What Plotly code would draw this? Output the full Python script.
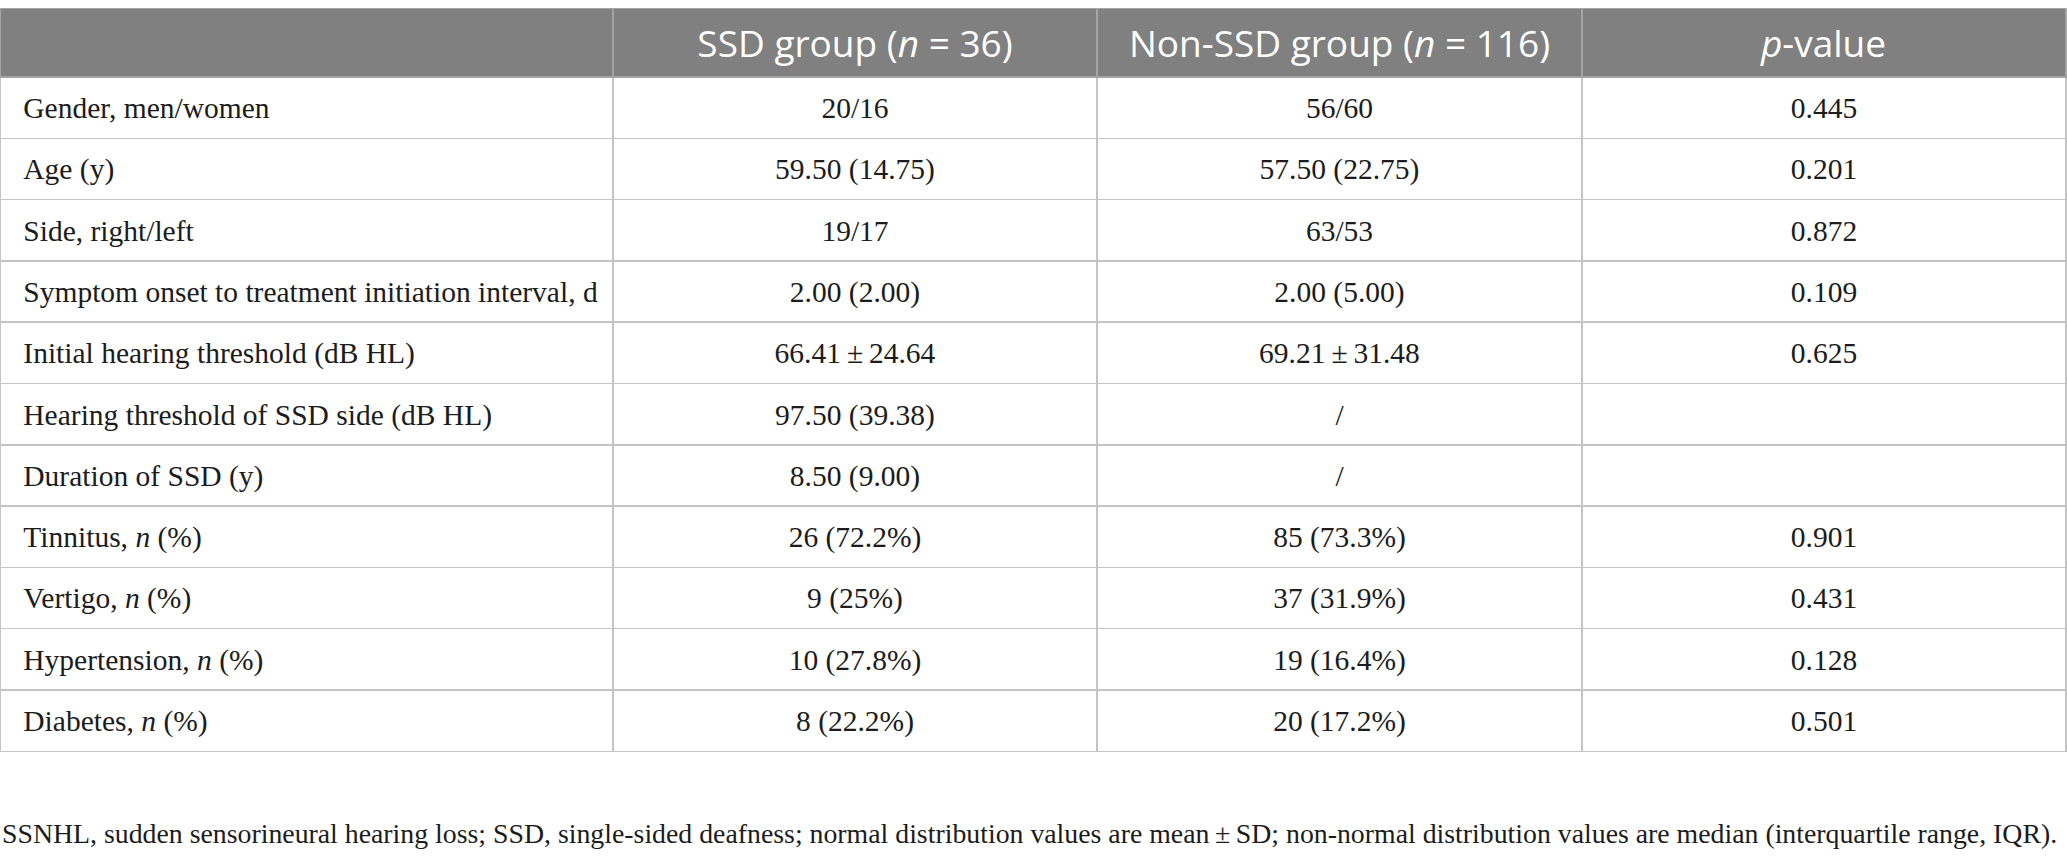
import plotly.graph_objects as go

# ---- data ----
header_labels = ["", "SSD group (<i>n</i> = 36)", "Non-SSD group (<i>n</i> = 116)", "<i>p</i>-value"]
characteristics = [
    "Gender, men/women",
    "Age (y)",
    "Side, right/left",
    "Symptom onset to treatment initiation interval, d",
    "Initial hearing threshold (dB HL)",
    "Hearing threshold of SSD side (dB HL)",
    "Duration of SSD (y)",
    "Tinnitus, <i>n</i> (%)",
    "Vertigo, <i>n</i> (%)",
    "Hypertension, <i>n</i> (%)",
    "Diabetes, <i>n</i> (%)",
]
ssd_group = [
    "20/16", "59.50 (14.75)", "19/17", "2.00 (2.00)", "66.41\u2009±\u200924.64",
    "97.50 (39.38)", "8.50 (9.00)", "26 (72.2%)", "9 (25%)", "10 (27.8%)", "8 (22.2%)",
]
non_ssd_group = [
    "56/60", "57.50 (22.75)", "63/53", "2.00 (5.00)", "69.21\u2009±\u200931.48",
    "/", "/", "85 (73.3%)", "37 (31.9%)", "19 (16.4%)", "20 (17.2%)",
]
p_values = ["0.445", "0.201", "0.872", "0.109", "0.625", "", "", "0.901", "0.431", "0.128", "0.501"]
footnote = ("SSNHL, sudden sensorineural hearing loss; SSD, single-sided deafness; normal distribution "
            "values are mean\u2009±\u2009SD; non-normal distribution values are median (interquartile range, IQR).")

W, H = 2067, 858
top_px = 8.5
BODY_PX = 29.5        # visible body text size
STRUT_PX = 37.6       # invisible strut size: pushes the text down to the row's vertical centre

STRUT = f"<span style='font-size:{STRUT_PX}px'>\u00a0</span>"


def body(s, centred=True):
    lead = "" if centred else "\u2009"
    txt = f"<span style='font-size:{BODY_PX}px'>{lead}{s}</span>"
    # trailing <br> switches off plotly's word wrapping so the span tags survive
    return STRUT + txt + (STRUT if centred else "") + "<br>"


first_col = [body(s, centred=False) for s in characteristics]
cols = [first_col] + [[body(v) for v in c] for c in (ssd_group, non_ssd_group, p_values)]

fig = go.Figure(go.Table(
    domain=dict(x=[0, 2066 / W], y=[0, 1 - top_px / H]),
    columnwidth=[613, 484, 485, 484],
    header=dict(
        values=header_labels,
        fill_color="#7f807f",
        line=dict(color="#a3a4a3", width=1.5),
        font=dict(family="Open Sans", size=37, color="white"),
        align="center",
        height=68.5,
    ),
    cells=dict(
        values=cols,
        fill_color="white",
        line=dict(color="#c4c4c4", width=1.5),
        font=dict(family="Liberation Serif", size=BODY_PX, color="#1c1c1c"),
        align=["left", "center", "center", "center"],
        height=61.3,
    ),
))

fig.add_annotation(
    text=footnote, xref="paper", yref="paper", x=0, y=1 - 833 / H,
    xanchor="left", yanchor="middle", showarrow=False,
    font=dict(family="Liberation Serif", size=27.8, color="#1c1c1c"),
)

fig.update_layout(
    width=W, height=H, margin=dict(l=0, r=0, t=0, b=0),
    paper_bgcolor="white", plot_bgcolor="white",
)

fig.write_html("out.html", config={"displayModeBar": False},
               post_script="document.body.style.margin='0';")
